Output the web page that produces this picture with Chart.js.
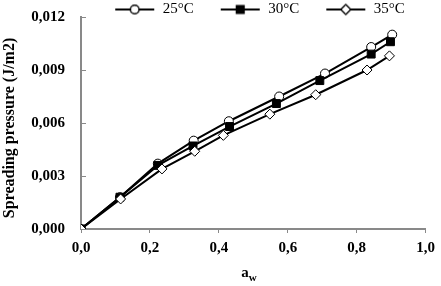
<!DOCTYPE html>
<html>
<head>
<meta charset="utf-8">
<script src="https://cdn.jsdelivr.net/npm/chart.js@4/dist/chart.umd.min.js"></script>
<style>
  html, body { margin: 0; padding: 0; background: #fff; }
  #graph { display: block; }
</style>
</head>
<body>
<canvas id="graph" width="441" height="286"></canvas>
<script>
// -------------------------
// DATA
// -------------------------
const seriesNames = ["25°C", "30°C", "35°C"];

const aw25 = [0, 0.113, 0.223, 0.327, 0.429, 0.575, 0.708, 0.842, 0.903];
const sp25 = [0, 0.0018, 0.0037, 0.0050, 0.0061, 0.0075, 0.0088, 0.0103, 0.0110];

const aw30 = [0, 0.113, 0.223, 0.325, 0.431, 0.567, 0.693, 0.842, 0.898];
const sp30 = [0, 0.0018, 0.0036, 0.0047, 0.0058, 0.0071, 0.0084, 0.0099, 0.0106];

const aw35 = [0, 0.115, 0.235, 0.330, 0.413, 0.548, 0.681, 0.830, 0.895];
const sp35 = [0, 0.0017, 0.0034, 0.0044, 0.0053, 0.0065, 0.0076, 0.0090, 0.0098];

const xTicks = [0, 0.2, 0.4, 0.6, 0.8, 1.0];
const yTicks = [0, 0.003, 0.006, 0.009, 0.012];

const yTitle = "Spreading pressure (J/m2)";
const xTitleMain = "a";
const xTitleSub = "w";

const FONT = "'Liberation Serif', 'Times New Roman', serif";
const AXIS_GREY = "#898989";

function toPoints(xs, ys) {
  return xs.map((x, i) => ({ x: x, y: ys[i] }));
}

// marker styles per series
const markers = [
  { style: "circle", radius: 4.5, fill: "#ffffff" },
  { style: "rect", radius: 5.6, fill: "#000000" },
  { style: "rectRot", radius: 5, fill: "#ffffff" }
];

// -------------------------
// LEGEND ICONS (line + marker)
// -------------------------
const ICON_W = 67;

function makeIcon(m) {
  const c = document.createElement("canvas");
  c.width = ICON_W;
  c.height = 14;
  const g = c.getContext("2d");
  g.strokeStyle = "#000";
  g.lineWidth = 2;
  g.beginPath();
  g.moveTo(ICON_W - 40, 7);
  g.lineTo(ICON_W - 1, 7);
  g.stroke();
  Chart.helpers.drawPoint(g, {
    pointStyle: m.style, radius: m.radius * 0.9, rotation: 0, borderWidth: 1
  }, ICON_W - 20.5, 7);
  g.fillStyle = m.fill;
  g.fill();
  g.lineWidth = 1;
  g.stroke();
  return c;
}

// -------------------------
// AXIS TITLES + LEGEND PLACEMENT
// -------------------------
const titlesPlugin = {
  id: "titles",
  afterLayout(chart) {
    // legend sits right of centre and close to the top edge
    const lg = chart.legend;
    const h = lg.bottom - lg.top;
    lg.left += 33;
    lg.right += 33;
    lg.top = 2;
    lg.bottom = 2 + h;
  },
  afterDraw(chart) {
    const ctx = chart.ctx;
    const area = chart.chartArea;
    ctx.save();
    ctx.fillStyle = "#000";

    // x title with subscript
    const x0 = (area.left + area.right) / 2 - 12;
    const y0 = 277;
    ctx.textBaseline = "alphabetic";
    ctx.textAlign = "left";
    ctx.font = "bold 15px " + FONT;
    ctx.fillText(xTitleMain, x0, y0);
    const w = ctx.measureText(xTitleMain).width;
    ctx.font = "bold 11px " + FONT;
    ctx.fillText(xTitleSub, x0 + w, y0 + 4);

    // y title, rotated
    ctx.translate(10, 128);
    ctx.rotate(-Math.PI / 2);
    ctx.textAlign = "center";
    ctx.textBaseline = "middle";
    ctx.font = "bold 16px " + FONT;
    ctx.fillText(yTitle, 0, 0);
    ctx.restore();
  }
};

// -------------------------
// INIT CHART
// -------------------------
let chart;

function initChart() {
  const ctx = document.getElementById("graph").getContext("2d");
  const xs = [aw25, aw30, aw35];
  const ys = [sp25, sp30, sp35];

  const datasets = seriesNames.map((name, i) => ({
    label: name,
    data: toPoints(xs[i], ys[i]),
    borderColor: "#000",
    borderWidth: 2,
    backgroundColor: markers[i].fill,
    pointStyle: markers[i].style,
    pointRadius: markers[i].radius,
    pointHoverRadius: markers[i].radius,
    pointBackgroundColor: markers[i].fill,
    pointBorderColor: "#000",
    pointBorderWidth: 1,
    tension: 0,
    fill: false,
    order: 3 - i
  }));

  chart = new Chart(ctx, {
    type: "line",
    data: { datasets: datasets },
    options: {
      responsive: false,
      animation: false,
      layout: { padding: { left: 0, right: 14, top: -8, bottom: 0 } },
      plugins: {
        tooltip: { enabled: false },
        legend: {
          position: "top",
          labels: {
            usePointStyle: true,
            pointStyleWidth: ICON_W,
            padding: 0,
            color: "#000",
            font: { family: FONT, size: 15 },
            generateLabels(c) {
              return c.data.datasets.map((d, i) => ({
                text: d.label,
                pointStyle: makeIcon(markers[i]),
                fillStyle: "#fff",
                strokeStyle: "#000",
                lineWidth: 0,
                hidden: false,
                datasetIndex: i
              }));
            }
          }
        }
      },
      scales: {
        x: {
          type: "linear",
          min: 0,
          max: 1,
          afterFit(scale) { scale.height = 57; },
          afterBuildTicks(scale) { scale.ticks = xTicks.map(v => ({ value: v })); },
          border: { display: true, color: AXIS_GREY, width: 2 },
          grid: { drawOnChartArea: false, drawTicks: true, tickLength: 4, color: AXIS_GREY, tickWidth: 1 },
          ticks: {
            color: "#000",
            padding: 6,
            font: { family: FONT, size: 15, weight: "bold" },
            callback: v => v.toFixed(1).replace(".", ",")
          }
        },
        y: {
          type: "linear",
          min: 0,
          max: 0.012,
          afterFit(scale) {
            scale.width = 81;
            // the wide label gap should not push the plot down
            scale.paddingTop = 9;
            scale.paddingBottom = 9;
          },
          afterBuildTicks(scale) { scale.ticks = yTicks.map(v => ({ value: v })); },
          border: { display: true, color: AXIS_GREY, width: 2 },
          // ticks point inwards on the value axis
          grid: { drawOnChartArea: false, drawTicks: true, tickLength: -5, color: AXIS_GREY, tickWidth: 1 },
          ticks: {
            color: "#000",
            padding: 21,
            font: { family: FONT, size: 15, weight: "bold" },
            callback: v => v.toFixed(3).replace(".", ",")
          }
        }
      }
    },
    plugins: [titlesPlugin]
  });
}

initChart();
</script>
</body>
</html>
